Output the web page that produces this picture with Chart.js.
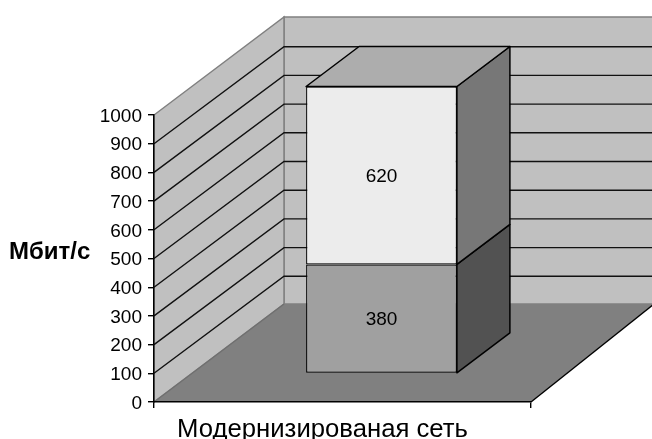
<!DOCTYPE html>
<html><head><meta charset="utf-8">
<style>html,body{margin:0;padding:0;background:#fff}canvas{display:block}</style>
<script src="https://cdn.jsdelivr.net/npm/chart.js@4"></script>
</head><body><canvas id="c" width="652" height="439"></canvas>
<script>
const categories = ["Модернизированая сеть"];
const lowerValues = [380];
const upperValues = [620];
const axisTitle = "Мбит/с";
const FONT = '"Liberation Sans", Arial, sans-serif';
const WALL = {dx:130, dy:98, gridDy:97, floorRightDx:123};
const BAR = {dx:39, dy:28.5, sideDx:53, sideDy:40};

function poly(ctx, pts, fill, stroke, lw){
  ctx.beginPath();
  pts.forEach((p,i)=> i ? ctx.lineTo(p[0],p[1]) : ctx.moveTo(p[0],p[1]));
  ctx.closePath();
  if(fill){ctx.fillStyle=fill;ctx.fill();}
  if(stroke){ctx.strokeStyle=stroke;ctx.lineWidth=lw||1;ctx.stroke();}
}
const threeD = {
  id:'threeD',
  beforeDraw(chart){
    const {ctx, scales:{y}, chartArea:a} = chart;
    const L=a.left,R=a.right,T=a.top,B=a.bottom,dx=WALL.dx,dy=WALL.dy,fx=WALL.floorRightDx;
    ctx.save();
    poly(ctx,[[L+dx,T-dy],[R+dx,T-dy],[R+dx,B-dy],[L+dx,B-dy]],'#c0c0c0','#808080',1.5);
    poly(ctx,[[L,B],[L,T],[L+dx,T-dy],[L+dx,B-dy]],'#c0c0c0','#808080',1.5);
    poly(ctx,[[L,B],[R,B],[R+fx,B-dy],[L+dx,B-dy]],'#808080');
    ctx.strokeStyle='#000';ctx.lineWidth=1.4;
    ctx.beginPath();ctx.moveTo(R,B);ctx.lineTo(R+fx,B-dy);ctx.stroke();
    ctx.strokeStyle='#6f6f6f';
    ctx.beginPath();ctx.moveTo(L,B);ctx.lineTo(L+dx,B-dy);ctx.stroke();
    ctx.strokeStyle='#111';ctx.lineWidth=1.4;
    y.ticks.forEach(t=>{
      if(t.value===0||t.value===y.max) return;
      const py=y.getPixelForValue(t.value), by=py-WALL.gridDy;
      ctx.beginPath();ctx.moveTo(L,py);ctx.lineTo(L+dx,by);ctx.lineTo(R+dx,by);ctx.stroke();
    });
    ctx.font='bold 24px '+FONT;ctx.fillStyle='#000';ctx.textBaseline='middle';ctx.textAlign='left';
    ctx.fillText(axisTitle,9,252);
    ctx.restore();
  },
  beforeDatasetsDraw(chart){
    const {ctx} = chart;
    const sideColors=['#525252','#777777'];
    const sx=BAR.sideDx, sy=BAR.sideDy;
    ctx.save();
    ctx.translate(BAR.dx,-BAR.dy);
    ctx.lineJoin='round';
    chart.data.datasets.forEach((ds,i)=>{
      const b=chart.getDatasetMeta(i).data[0];
      const r=b.x+b.width/2, l=b.x-b.width/2, top=b.y, bot=b.base;
      poly(ctx,[[r,bot],[r,top],[r+sx,top-sy],[r+sx,bot-sy]],sideColors[i],'#000',1.5);
      if(i===chart.data.datasets.length-1)
        poly(ctx,[[l,top],[r,top],[r+sx,top-sy],[l+sx,top-sy]],'#adadad','#000',1.5);
    });
  },
  afterDatasetsDraw(chart){
    const {ctx} = chart;
    ctx.font='19px '+FONT;ctx.fillStyle='#000';ctx.textAlign='center';ctx.textBaseline='middle';
    chart.data.datasets.forEach((ds,i)=>{
      const b=chart.getDatasetMeta(i).data[0];
      ctx.fillText(String(ds.data[0]),b.x,(b.y+b.base)/2+1);
    });
    ctx.restore();
  }
};
new Chart(document.getElementById('c'),{
  type:'bar',
  data:{labels:categories,datasets:[
    {label:'380',data:lowerValues,backgroundColor:'#a0a0a0',borderColor:'#000',borderWidth:1.2,borderSkipped:false,clip:false},
    {label:'620',data:upperValues,backgroundColor:'#ececec',borderColor:'#000',borderWidth:1.2,borderSkipped:false,clip:false}
  ]},
  options:{
    responsive:false,animation:false,devicePixelRatio:1,
    layout:{padding:{top:115,right:121,left:0,bottom:0}},
    categoryPercentage:0.4,barPercentage:1,
    plugins:{legend:{display:false},tooltip:{enabled:false},title:{display:false}},
    scales:{
      x:{stacked:true,
        grid:{drawOnChartArea:false,drawTicks:true,tickLength:6,color:'#000',lineWidth:1.4},
        border:{color:'#000',width:1.5},
        ticks:{color:'#000',font:{family:FONT,size:25.7},padding:6,labelOffset:-20,maxRotation:0,autoSkip:false},
        afterFit(s){s.height=37;}
      },
      y:{stacked:true,min:0,max:1000,
        grid:{drawOnChartArea:false,drawTicks:true,tickLength:6,color:'#000',lineWidth:1.4},
        border:{color:'#000',width:1.5},
        ticks:{stepSize:100,color:'#000',font:{family:FONT,size:19},padding:6,labelOffset:1.5,callback:v=>String(v)},
        afterFit(s){s.width=154;}
      }
    }
  },
  plugins:[threeD]
});
</script></body></html>
